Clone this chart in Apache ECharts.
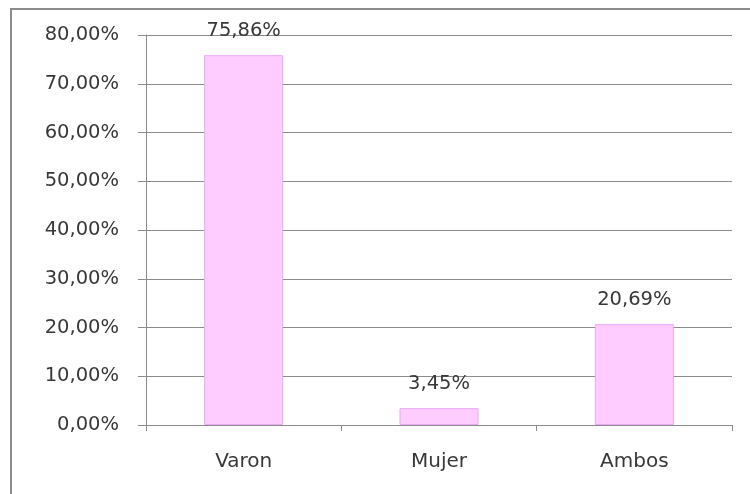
<!DOCTYPE html>
<html>
<head>
<meta charset="utf-8">
<script src="https://cdn.jsdelivr.net/npm/echarts@6/dist/echarts.min.js"></script>
<style>
  html, body { margin: 0; padding: 0; background: #fff; }
  #chart { width: 750px; height: 494px; }
</style>
</head>
<body>
<div id="chart"></div>
<script>
const categories = ['Varon', 'Mujer', 'Ambos']
const values = [75.86, 3.45, 20.69]

const fmt = v => v.toFixed(2).replace('.', ',') + '%'

const chart = echarts.init(document.getElementById('chart'))
const option = {
  backgroundColor: '#ffffff',
  animation: false,
  graphic: [{
    type: 'rect',
    shape: { x: 11, y: 9, width: 800, height: 600 },
    style: { fill: 'none', stroke: '#8c8c8c', lineWidth: 2 },
    silent: true
  }],
  grid: { left: 146, right: 18, top: 35, bottom: 69 },
  xAxis: {
    type: 'category',
    data: categories,
    axisLine: { lineStyle: { color: '#8c8c8c', width: 1 } },
    axisTick: { show: true, length: 6, lineStyle: { color: '#8c8c8c' } },
    axisLabel: {
      margin: 27,
      color: '#383838',
      fontFamily: 'DejaVu Sans',
      fontSize: 20
    }
  },
  yAxis: {
    type: 'value',
    min: 0,
    max: 80,
    interval: 10,
    axisLine: { show: true, lineStyle: { color: '#8c8c8c', width: 1 } },
    axisTick: { show: true, length: 8, lineStyle: { color: '#8c8c8c' } },
    splitLine: { lineStyle: { color: '#8c8c8c', width: 1 } },
    axisLabel: {
      margin: 27,
      color: '#383838',
      fontFamily: 'DejaVu Sans',
      fontSize: 19.5,
      formatter: v => fmt(v)
    }
  },
  series: [{
    type: 'bar',
    data: values,
    barWidth: 79,
    itemStyle: { color: '#ffccff', borderColor: '#e9a6f5', borderWidth: 1 },
    label: {
      show: true,
      position: 'top',
      distance: 14,
      color: '#383838',
      fontFamily: 'DejaVu Sans',
      fontSize: 19.5,
      formatter: p => fmt(p.value)
    }
  }]
}
chart.setOption(option)
</script>
</body>
</html>
